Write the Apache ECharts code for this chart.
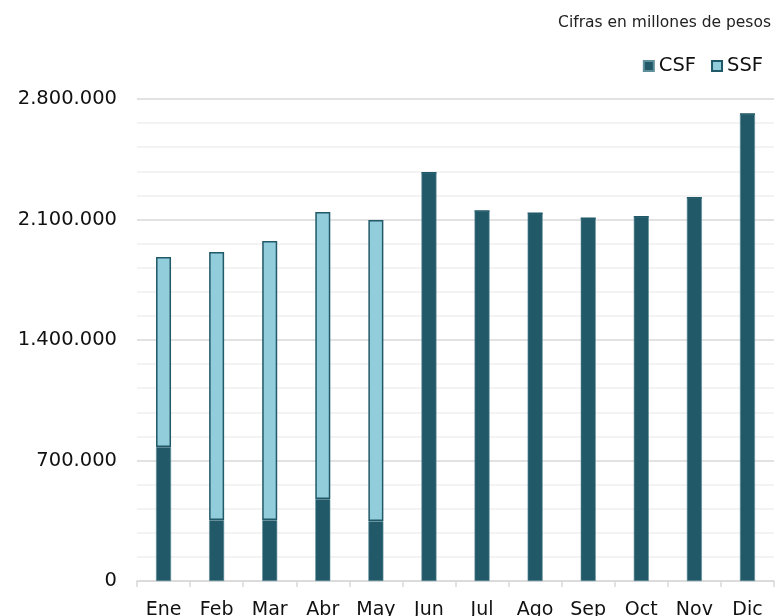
<!DOCTYPE html>
<html>
<head>
<meta charset="utf-8">
<script src="https://cdn.jsdelivr.net/npm/echarts@6/dist/echarts.min.js"></script>
<style>
  html, body { margin: 0; padding: 0; background: #fff; }
  #chart { width: 776px; height: 616px; }
</style>
</head>
<body>
<div id="chart"></div>
<script>
var meses = ['Ene', 'Feb', 'Mar', 'Abr', 'May', 'Jun', 'Jul', 'Ago', 'Sep', 'Oct', 'Nov', 'Dic'];
// cifras en millones de pesos
var csf = [778000, 354000, 354000, 476000, 348000, 2372000, 2149000, 2136000, 2107000, 2116000, 2227000, 2713000];
var ssf = [1104000, 1557000, 1621000, 1667000, 1749000, 0, 0, 0, 0, 0, 0, 0];

function fmt(v) {
    return String(v).replace(/\B(?=(\d{3})+(?!\d))/g, '.');
}

var chart = echarts.init(document.getElementById('chart'));
chart.setOption({
    animation: false,
    textStyle: { fontFamily: 'DejaVu Sans' },
    title: {
        text: 'Cifras en millones de pesos',
        right: 0,
        top: 10,
        textStyle: { fontSize: 15.5, fontWeight: 'normal', color: '#222', fontFamily: 'DejaVu Sans' }
    },
    legend: {
        right: 8,
        top: 51,
        itemWidth: 10,
        itemHeight: 10,
        itemGap: 15,
        icon: 'rect',
        textStyle: { fontSize: 19.5, color: '#111' },
        data: ['CSF', 'SSF']
    },
    grid: { left: 137, right: 2, top: 99, bottom: 35, containLabel: false, outerBoundsMode: 'none' },
    xAxis: {
        type: 'category',
        data: meses,
        axisLine: { lineStyle: { color: '#d9d9d9', width: 1.5 } },
        axisTick: { show: true, length: 6, lineStyle: { color: '#d9d9d9', width: 1.5 } },
        axisLabel: { fontSize: 19, color: '#111', margin: 20 }
    },
    yAxis: {
        type: 'value',
        min: 0,
        max: 2800000,
        interval: 700000,
        axisLine: { show: false },
        axisTick: { show: false },
        axisLabel: { fontSize: 19.5, color: '#111', margin: 20, formatter: fmt },
        splitLine: { lineStyle: { color: '#d9d9d9', width: 1.5 } },
        minorTick: { show: false, splitNumber: 5 },
        minorSplitLine: { show: true, lineStyle: { color: '#efefef', width: 1.5 } }
    },
    series: [
        {
            name: 'CSF',
            type: 'bar',
            stack: 'total',
            barWidth: 15,
            data: csf,
            itemStyle: { color: '#215968', borderColor: '#5f8f9b', borderWidth: 0.6 }
        },
        {
            name: 'SSF',
            type: 'bar',
            stack: 'total',
            barWidth: 15,
            data: ssf,
            itemStyle: { color: '#92cddc', borderColor: '#215968', borderWidth: 1.5 }
        }
    ]
});
</script>
</body>
</html>
